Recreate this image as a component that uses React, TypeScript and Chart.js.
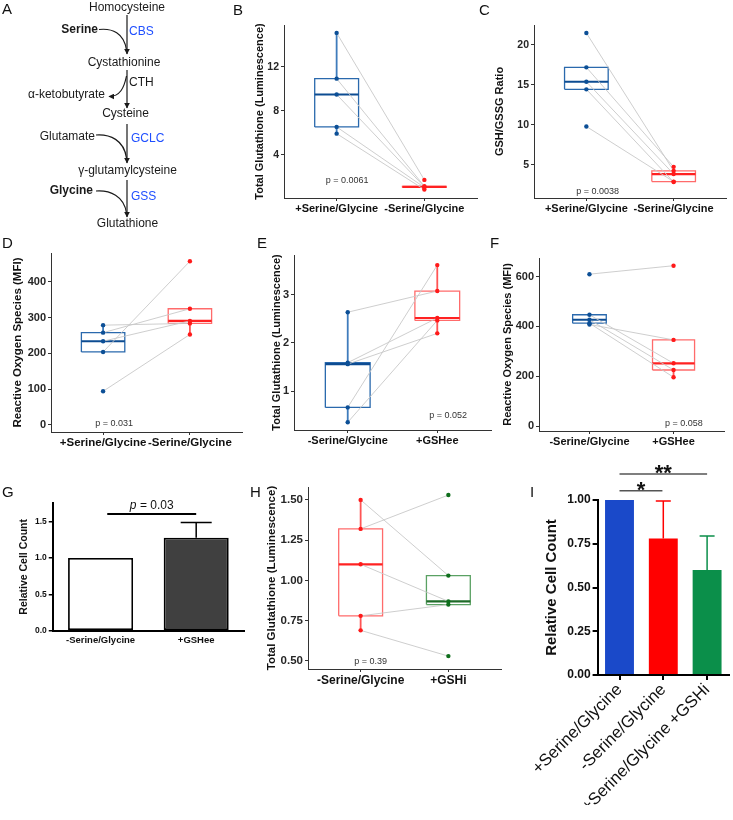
import React, { useEffect, useRef } from 'react';
import { Chart, registerables } from 'chart.js';
Chart.register(...registerables);

const FONT = '"Liberation Sans", Arial, Helvetica, sans-serif';
Chart.defaults.font.family = FONT;

// ---------------- DATA ----------------
// Panel B
const bCats = ['+Serine/Glycine', '-Serine/Glycine'];
const bPlus = [15.1, 10.94, 9.5, 6.55, 5.94];
const bMinus = [1.73, 1.15, 1.1, 1.05, 0.85];
const bBoxPlus = [5.94, 6.55, 9.5, 10.94, 15.1];
const bBoxMinus = [1.05, 1.05, 1.1, 1.15, 1.15];
const bTicks = [4, 8, 12];
const bP = 'p = 0.0061';

// Panel C
const cCats = ['+Serine/Glycine', '-Serine/Glycine'];
const cPlus = [21.5, 17.2, 15.4, 14.45, 9.8];
const cMinus = [4.25, 4.75, 3.85, 2.85, 2.9];
const cBoxPlus = [14.45, 14.45, 15.4, 17.2, 17.2];
const cBoxMinus = [2.85, 2.9, 3.85, 4.25, 4.75];
const cTicks = [5, 10, 15, 20];
const cP = 'p = 0.0038';

// Panel D
const dCats = ['+Serine/Glycine', '-Serine/Glycine'];
const dPlus = [279, 258, 234, 204, 94];
const dMinus = [284, 325, 291, 458, 253];
const dBoxPlus = [204, 204, 234, 258, 279];
const dBoxMinus = [253, 284, 291, 325, 325];
const dTicks = [0, 100, 200, 300, 400];
const dP = 'p = 0.031';

// Panel E
const eCats = ['-Serine/Glycine', '+GSHee'];
const eMinus = [2.64, 1.59, 1.56, 0.66, 0.35];
const eGSHee = [3.08, 2.52, 2.2, 3.62, 2.47];
const eBoxMinus = [0.35, 0.66, 1.56, 1.59, 2.64];
const eBoxGSHee = [2.2, 2.47, 2.52, 3.08, 3.62];
const eTicks = [1, 2, 3];
const eP = 'p = 0.052';

// Panel F
const fCats = ['-Serine/Glycine', '+GSHee'];
const fMinus = [610, 447, 427, 413, 408];
const fGSHee = [644, 252, 225, 196, 346];
const fBoxMinus = [408, 413, 427, 447, 447];
const fBoxGSHee = [196, 225, 252, 346, 346];
const fTicks = [0, 200, 400, 600];
const fP = 'p = 0.058';

// Panel G
const gCats = ['-Serine/Glycine', '+GSHee'];
const gMeans = [1.0, 1.28];
const gErr = [0, 0.21];
const gTicks = [0, 0.5, 1.0, 1.5];
const gPValue = '0.03';

// Panel H
const hCats = ['-Serine/Glycine', '+GSHi'];
const hMinus = [1.5, 1.32, 1.1, 0.78, 0.69];
const hGSHi = [1.03, 1.53, 0.87, 0.85, 0.53];
const hBoxMinus = [0.69, 0.78, 1.1, 1.32, 1.5];
const hBoxGSHi = [0.85, 0.85, 0.87, 1.03, 1.03];
const hTicks = [0.5, 0.75, 1.0, 1.25, 1.5];
const hP = 'p = 0.39';

// Panel I
const iCats = ['+Serine/Glycine', '-Serine/Glycine', '+Serine/Glycine +GSHi'];
const iMeans = [1.0, 0.78, 0.6];
const iErr = [0, 0.215, 0.195];
const iTicks = [0, 0.25, 0.5, 0.75, 1.0];
const iSig = [
  { from: 0, to: 2, y: 1.149, label: '**' },
  { from: 0, to: 0.98, y: 1.053, label: '*' },
];

// ---------------- STYLE ----------------
type Col = { point: string; box: string; median: string; whisker: string };
const BLUE: Col = { point: '#0c4f96', box: '#2a69ad', median: '#0d4c92', whisker: '#3f7cbc' };
const RED: Col = { point: '#ff1a1a', box: '#ff6b6b', median: '#ff2222', whisker: '#ff5555' };
const GREEN: Col = { point: '#0f6e1c', box: '#5aa163', median: '#1e6b28', whisker: '#4a944f' };

type Geo = { cx: number; cy: number; cw: number; ch: number; L: number; T: number; R: number; B: number; tcx: number; xH: number };

const GEO: Record<string, Geo> = {
  B: { cx: 225, cy: 0, cw: 265, ch: 240, L: 284, T: 25, R: 477, B: 198, tcx: 260, xH: 22 },
  C: { cx: 480, cy: 0, cw: 253, ch: 240, L: 534, T: 25, R: 726, B: 198, tcx: 500, xH: 22 },
  D: { cx: 0, cy: 230, cw: 246, ch: 235, L: 51, T: 253, R: 242, B: 432, tcx: 18, xH: 22 },
  E: { cx: 246, cy: 235, cw: 250, ch: 230, L: 294, T: 255, R: 491, B: 430, tcx: 277, xH: 22 },
  F: { cx: 496, cy: 235, cw: 237, ch: 230, L: 539, T: 258, R: 724, B: 431, tcx: 508, xH: 22 },
  G: { cx: 0, cy: 480, cw: 250, ch: 200, L: 52.75, T: 503, R: 244, B: 630.7, tcx: 24, xH: 20 },
  H: { cx: 246, cy: 465, cw: 262, ch: 240, L: 308, T: 487, R: 501, B: 669, tcx: 271.7, xH: 24 },
  I: { cx: 495, cy: 440, cw: 238, ch: 380, L: 597.6, T: 500, R: 729, B: 675, tcx: 551.7, xH: 130 },
};

function layoutFor(g: Geo, titleSize: number) {
  const lh = titleSize * 1.2;
  const yW = g.L - (g.tcx - lh / 2);
  return {
    yW,
    padding: {
      left: g.L - yW - g.cx,
      top: g.T - g.cy,
      right: g.cx + g.cw - g.R,
      bottom: g.cy + g.ch - g.B - g.xH,
    },
  };
}

function textPlugin(id: string, text: string, x: number, y: number, size: number) {
  return {
    id,
    afterDatasetsDraw(chart: any) {
      const { ctx } = chart;
      const xs = chart.scales.x, ys = chart.scales.y;
      ctx.save();
      ctx.font = `${size}px ${FONT}`;
      ctx.fillStyle = '#333';
      ctx.textAlign = 'center';
      ctx.textBaseline = 'middle';
      ctx.fillText(text, xs.getPixelForValue(x), ys.getPixelForValue(y));
      ctx.restore();
    },
  };
}

interface BoxSpec {
  geo: Geo; cats: string[]; g1: number[]; g2: number[]; box1: number[]; box2: number[];
  cols: [Col, Col]; hw: [number, number]; yMin: number; yMax: number; yTicks: number[]; yDec: number;
  yTitle: string; pText: string; pX: number; pY: number;
  tickSize: number; labelSize: number; titleSize: number;
}

function makeBoxChart(canvas: HTMLCanvasElement, s: BoxSpec) {
  const lay = layoutFor(s.geo, s.titleSize);
  const lineBase = { showLine: true, pointRadius: 0, pointHoverRadius: 0, fill: false, tension: 0 };
  const groups = [
    { c: 1, vals: s.g1, st: s.box1, col: s.cols[0], hw: s.hw[0] },
    { c: 2, vals: s.g2, st: s.box2, col: s.cols[1], hw: s.hw[1] },
  ];
  const pointsDs = groups.map((g) => ({
    data: g.vals.map((v) => ({ x: g.c, y: v })),
    showLine: false, pointRadius: 2.2, pointBackgroundColor: g.col.point, pointBorderWidth: 0, pointBorderColor: g.col.point,
  }));
  const pairDs = s.g1.map((v, i) => ({
    ...lineBase, data: [{ x: 1, y: v }, { x: 2, y: s.g2[i] }], borderColor: '#c8c8c8', borderWidth: 0.9,
  }));
  const medDs = groups.map((g) => ({
    ...lineBase, data: [{ x: g.c - g.hw, y: g.st[2] }, { x: g.c + g.hw, y: g.st[2] }], borderColor: g.col.median, borderWidth: 2.2,
  }));
  const boxDs = groups.map((g) => {
    const q1 = g.st[1], q3 = g.st[3];
    return {
      ...lineBase,
      data: [
        { x: g.c - g.hw, y: q1 }, { x: g.c + g.hw, y: q1 }, { x: g.c + g.hw, y: q3 }, { x: g.c - g.hw, y: q3 }, { x: g.c - g.hw, y: q1 },
      ],
      borderColor: g.col.box, borderWidth: 1.3, borderJoinStyle: 'miter',
    };
  });
  const whiskDs = groups.flatMap((g) => [
    { ...lineBase, data: [{ x: g.c, y: g.st[3] }, { x: g.c, y: g.st[4] }], borderColor: g.col.whisker, borderWidth: 1.8 },
    { ...lineBase, data: [{ x: g.c, y: g.st[1] }, { x: g.c, y: g.st[0] }], borderColor: g.col.whisker, borderWidth: 1.8 },
  ]);
  const axisColor = '#333';
  return new Chart(canvas, {
    type: 'scatter',
    data: { datasets: [...pointsDs, ...pairDs, ...medDs, ...boxDs, ...whiskDs] as any },
    options: {
      responsive: false, animation: false, events: [],
      layout: { padding: lay.padding },
      plugins: { legend: { display: false }, tooltip: { enabled: false } },
      scales: {
        x: {
          type: 'linear', min: 0.4, max: 2.6,
          afterBuildTicks: (sc: any) => { sc.ticks = [{ value: 1 }, { value: 2 }]; },
          afterFit: (sc: any) => { sc.height = s.geo.xH; },
          ticks: {
            callback: (v: any) => s.cats[Math.round(Number(v)) - 1],
            font: { family: FONT, size: s.labelSize, weight: 'bold' }, color: '#111', padding: 1,
            autoSkip: false, maxRotation: 0, minRotation: 0,
          },
          grid: { display: true, drawOnChartArea: false, drawTicks: true, tickLength: 3, color: axisColor, lineWidth: 1 },
          border: { display: true, color: axisColor, width: 1 },
        },
        y: {
          type: 'linear', min: s.yMin, max: s.yMax,
          afterBuildTicks: (sc: any) => { sc.ticks = s.yTicks.map((v) => ({ value: v })); },
          afterFit: (sc: any) => { sc.width = lay.yW; },
          ticks: {
            callback: (v: any) => Number(v).toFixed(s.yDec),
            font: { family: FONT, size: s.tickSize, weight: 'bold' }, color: '#262626', padding: 2, autoSkip: false,
          },
          grid: { display: true, drawOnChartArea: false, drawTicks: true, tickLength: 3, color: axisColor, lineWidth: 1 },
          border: { display: true, color: axisColor, width: 1 },
          title: { display: true, text: s.yTitle, font: { family: FONT, size: s.titleSize, weight: 'bold' }, color: '#111', padding: 0 },
        },
      },
    } as any,
    plugins: [textPlugin('ptext', s.pText, s.pX, s.pY, 9)],
  });
}

function errPlugin(err: number[], colors: string[], width: number, cap: number) {
  return {
    id: 'errbars',
    afterDatasetsDraw(chart: any) {
      const meta = chart.getDatasetMeta(0);
      const ys = chart.scales.y;
      const ctx = chart.ctx;
      const vals = chart.data.datasets[0].data as number[];
      err.forEach((e, i) => {
        if (!e) return;
        const x = meta.data[i].x;
        const y0 = ys.getPixelForValue(vals[i]);
        const y1 = ys.getPixelForValue(vals[i] + e);
        ctx.save();
        ctx.strokeStyle = colors[i];
        ctx.lineWidth = width;
        ctx.beginPath();
        ctx.moveTo(x, y0); ctx.lineTo(x, y1);
        ctx.moveTo(x - cap / 2, y1); ctx.lineTo(x + cap / 2, y1);
        ctx.stroke();
        ctx.restore();
      });
    },
  };
}

function makeG(canvas: HTMLCanvasElement) {
  const geo = GEO.G;
  const titleSize = 10.5;
  const lay = layoutFor(geo, titleSize);
  const sig = {
    id: 'gsig',
    afterDraw(chart: any) {
      const { ctx } = chart;
      const xs = chart.scales.x, ys = chart.scales.y;
      const x1 = xs.getPixelForValue(0.07), x2 = xs.getPixelForValue(1.0);
      const y = ys.getPixelForValue(1.607);
      ctx.save();
      ctx.strokeStyle = '#000'; ctx.lineWidth = 2;
      ctx.beginPath(); ctx.moveTo(x1, y); ctx.lineTo(x2, y); ctx.stroke();
      const cxm = (x1 + x2) / 2;
      ctx.font = `italic 12px ${FONT}`;
      const w1 = ctx.measureText('p').width;
      ctx.font = `12px ${FONT}`;
      const rest = ' = ' + gPValue;
      const w2 = ctx.measureText(rest).width;
      const start = cxm - (w1 + w2) / 2;
      ctx.fillStyle = '#111'; ctx.textAlign = 'left'; ctx.textBaseline = 'alphabetic';
      ctx.font = `italic 12px ${FONT}`;
      ctx.fillText('p', start, y - 5);
      ctx.font = `12px ${FONT}`;
      ctx.fillText(rest, start + w1, y - 5);
      ctx.restore();
    },
  };
  return new Chart(canvas, {
    type: 'bar',
    data: {
      labels: gCats,
      datasets: [{
        data: gMeans, backgroundColor: ['#ffffff', '#404040'], borderColor: '#000', borderWidth: 1.8,
        borderSkipped: false, barPercentage: 0.68, categoryPercentage: 1,
      }],
    },
    options: {
      responsive: false, animation: false, events: [],
      layout: { padding: lay.padding },
      plugins: { legend: { display: false }, tooltip: { enabled: false } },
      scales: {
        x: {
          type: 'category',
          afterFit: (sc: any) => { sc.height = geo.xH; },
          ticks: { font: { family: FONT, size: 9.5, weight: 'bold' }, color: '#111', padding: 4, maxRotation: 0, minRotation: 0, autoSkip: false },
          grid: { display: true, drawOnChartArea: false, drawTicks: false, color: '#000' },
          border: { display: true, color: '#000', width: 2 },
        },
        y: {
          type: 'linear', min: 0, max: 1.757,
          afterBuildTicks: (sc: any) => { sc.ticks = gTicks.map((v) => ({ value: v })); },
          afterFit: (sc: any) => { sc.width = lay.yW; },
          ticks: { callback: (v: any) => Number(v).toFixed(1), font: { family: FONT, size: 8.5, weight: 'bold' }, color: '#111', padding: 2, autoSkip: false },
          grid: { display: true, drawOnChartArea: false, drawTicks: true, tickLength: 4, color: '#000', lineWidth: 1.5 },
          border: { display: true, color: '#000', width: 2 },
          title: { display: true, text: 'Relative Cell Count', font: { family: FONT, size: titleSize, weight: 'bold' }, color: '#111', padding: 0 },
        },
      },
    } as any,
    plugins: [errPlugin(gErr, ['#000', '#000'], 1.5, 31), sig],
  });
}

function makeI(canvas: HTMLCanvasElement) {
  const geo = GEO.I;
  const titleSize = 15;
  const lay = layoutFor(geo, titleSize);
  const colors = ['#1a49c9', '#ff0000', '#0b8f4a'];
  const sig = {
    id: 'isig',
    afterDraw(chart: any) {
      const { ctx } = chart;
      const xs = chart.scales.x, ys = chart.scales.y;
      ctx.save();
      iSig.forEach((s) => {
        const x1 = xs.getPixelForValue(s.from), x2 = xs.getPixelForValue(s.to);
        const y = ys.getPixelForValue(s.y);
        ctx.strokeStyle = '#555'; ctx.lineWidth = 1.5;
        ctx.beginPath(); ctx.moveTo(x1, y); ctx.lineTo(x2, y); ctx.stroke();
        ctx.fillStyle = '#111';
        ctx.font = `bold 22px ${FONT}`;
        ctx.textAlign = 'center'; ctx.textBaseline = 'alphabetic';
        ctx.fillText(s.label, (x1 + x2) / 2, y + 6);
      });
      ctx.restore();
    },
  };
  return new Chart(canvas, {
    type: 'bar',
    data: {
      labels: iCats,
      datasets: [{ data: iMeans, backgroundColor: colors, borderWidth: 0, barPercentage: 0.66, categoryPercentage: 1 }],
    },
    options: {
      responsive: false, animation: false, events: [],
      layout: { padding: lay.padding },
      plugins: { legend: { display: false }, tooltip: { enabled: false } },
      scales: {
        x: {
          type: 'category',
          afterFit: (sc: any) => { sc.height = geo.xH; },
          ticks: { font: { family: FONT, size: 16.8 }, color: '#111', padding: 0, maxRotation: 45, minRotation: 45, autoSkip: false },
          grid: { display: true, offset: false, drawOnChartArea: false, drawTicks: true, tickLength: 5, color: '#000', lineWidth: 2 },
          border: { display: true, color: '#000', width: 2 },
        },
        y: {
          type: 'linear', min: 0, max: 1,
          afterBuildTicks: (sc: any) => { sc.ticks = iTicks.map((v) => ({ value: v })); },
          afterFit: (sc: any) => { sc.width = lay.yW; },
          ticks: { callback: (v: any) => Number(v).toFixed(2), font: { family: FONT, size: 12, weight: 'bold' }, color: '#111', padding: 2, autoSkip: false },
          grid: { display: true, drawOnChartArea: false, drawTicks: true, tickLength: 5, color: '#000', lineWidth: 2 },
          border: { display: true, color: '#000', width: 2 },
          title: { display: true, text: 'Relative Cell Count', font: { family: FONT, size: titleSize, weight: 'bold' }, color: '#111', padding: 0 },
        },
      },
    } as any,
    plugins: [errPlugin(iErr, colors, 1.5, 15), sig],
  });
}

const SPECS: Record<string, BoxSpec> = {
  B: { geo: GEO.B, cats: bCats, g1: bPlus, g2: bMinus, box1: bBoxPlus, box2: bBoxMinus, cols: [BLUE, RED], hw: [0.25, 0.25], yMin: 0.085, yMax: 15.82, yTicks: bTicks, yDec: 0, yTitle: 'Total Glutathione (Luminescence)', pText: bP, pX: 1.12, pY: 1.72, tickSize: 10.5, labelSize: 11, titleSize: 11 },
  C: { geo: GEO.C, cats: cCats, g1: cPlus, g2: cMinus, box1: cBoxPlus, box2: cBoxMinus, cols: [BLUE, RED], hw: [0.25, 0.25], yMin: 0.85, yMax: 22.5, yTicks: cTicks, yDec: 0, yTitle: 'GSH/GSSG Ratio', pText: cP, pX: 1.13, pY: 1.72, tickSize: 10.5, labelSize: 11, titleSize: 11 },
  D: { geo: GEO.D, cats: dCats, g1: dPlus, g2: dMinus, box1: dBoxPlus, box2: dBoxMinus, cols: [BLUE, RED], hw: [0.25, 0.25], yMin: -20, yMax: 481, yTicks: dTicks, yDec: 0, yTitle: 'Reactive Oxygen Species (MFI)', pText: dP, pX: 1.126, pY: 2.4, tickSize: 11, labelSize: 11.5, titleSize: 11.5 },
  E: { geo: GEO.E, cats: eCats, g1: eMinus, g2: eGSHee, box1: eBoxMinus, box2: eBoxGSHee, cols: [BLUE, RED], hw: [0.25, 0.25], yMin: 0.19, yMax: 3.83, yTicks: eTicks, yDec: 0, yTitle: 'Total Glutathione (Luminescence)', pText: eP, pX: 2.12, pY: 0.5, tickSize: 11, labelSize: 11, titleSize: 11 },
  F: { geo: GEO.F, cats: fCats, g1: fMinus, g2: fGSHee, box1: fBoxMinus, box2: fBoxGSHee, cols: [BLUE, RED], hw: [0.2, 0.25], yMin: -20, yMax: 675, yTicks: fTicks, yDec: 0, yTitle: 'Reactive Oxygen Species (MFI)', pText: fP, pX: 2.124, pY: 9.3, tickSize: 11, labelSize: 11, titleSize: 11 },
  H: { geo: GEO.H, cats: hCats, g1: hMinus, g2: hGSHi, box1: hBoxMinus, box2: hBoxGSHi, cols: [RED, GREEN], hw: [0.25, 0.25], yMin: 0.45, yMax: 1.58, yTicks: hTicks, yDec: 2, yTitle: 'Total Glutathione (Luminescence)', pText: hP, pX: 1.115, pY: 0.495, tickSize: 11.5, labelSize: 12, titleSize: 11.5 },
};

function ChartCanvas({ geo, make }: { geo: Geo; make: (c: HTMLCanvasElement) => Chart }) {
  const ref = useRef<HTMLCanvasElement>(null);
  useEffect(() => {
    const chart = make(ref.current!);
    return () => chart.destroy();
  }, []);
  return (
    <canvas
      ref={ref}
      width={geo.cw}
      height={geo.ch}
      style={{ position: 'absolute', left: geo.cx, top: geo.cy, width: geo.cw, height: geo.ch }}
    />
  );
}

const panelLetters: [string, number, number][] = [
  ['A', 2, 14], ['B', 233, 15], ['C', 479, 15], ['D', 2, 248], ['E', 257, 248],
  ['F', 490, 248], ['G', 2, 497], ['H', 250, 497], ['I', 530, 497],
];

function Overlay() {
  const base = { fontFamily: FONT, fontSize: 12, fill: '#1a1a1a' } as any;
  const blue = { ...base, fill: '#1f4fff' };
  const vx = 127;
  const stroke = { stroke: '#1a1a1a', strokeWidth: 1.2, fill: 'none' } as any;
  return (
    <svg width={733} height={820} style={{ position: 'absolute', left: 0, top: 0, pointerEvents: 'none' }}>
      <defs>
        <marker id="arr" viewBox="0 0 10 10" refX="9" refY="5" markerWidth="6" markerHeight="6" markerUnits="userSpaceOnUse" orient="auto">
          <path d="M0,0 L10,5 L0,10 z" fill="#1a1a1a" />
        </marker>
      </defs>
      {panelLetters.map(([t, x, y]) => (
        <text key={t} x={x} y={y} style={{ fontFamily: FONT, fontSize: 15, fill: '#111' }}>{t}</text>
      ))}
      <text x={vx} y={11.3} textAnchor="middle" style={base}>Homocysteine</text>
      <text x={98} y={33} textAnchor="end" style={{ ...base, fontWeight: 'bold' }}>Serine</text>
      <text x={129} y={35} style={blue}>CBS</text>
      <text x={124} y={66} textAnchor="middle" style={base}>Cystathionine</text>
      <text x={129} y={86} style={base}>CTH</text>
      <text x={105} y={97.5} textAnchor="end" style={base}>α-ketobutyrate</text>
      <text x={125.5} y={116.8} textAnchor="middle" style={base}>Cysteine</text>
      <text x={95} y={140} textAnchor="end" style={base}>Glutamate</text>
      <text x={131} y={141.7} style={blue}>GCLC</text>
      <text x={127.5} y={174} textAnchor="middle" style={base}>γ-glutamylcysteine</text>
      <text x={93} y={194} textAnchor="end" style={{ ...base, fontWeight: 'bold' }}>Glycine</text>
      <text x={131} y={200} style={blue}>GSS</text>
      <text x={127.5} y={227} textAnchor="middle" style={base}>Glutathione</text>

      <line x1={vx} y1={15} x2={vx} y2={54} {...stroke} markerEnd="url(#arr)" />
      <line x1={vx} y1={70} x2={vx} y2={108} {...stroke} markerEnd="url(#arr)" />
      <line x1={vx} y1={124} x2={vx} y2={163} {...stroke} markerEnd="url(#arr)" />
      <line x1={vx} y1={180} x2={vx} y2={217} {...stroke} markerEnd="url(#arr)" />

      <path d="M99,29.5 C112,28 124,33 126.5,50" {...stroke} />
      <path d="M126.5,76 C124,88 120,96.5 109,96.5" {...stroke} markerEnd="url(#arr)" />
      <path d="M96,135 C110,134 124,140 126.5,158" {...stroke} />
      <path d="M96,191 C110,190 124,196 126.5,213" {...stroke} />
    </svg>
  );
}

export default function App() {
  return (
    <div style={{ position: 'absolute', left: 0, top: 0, width: 733, height: 820, background: '#fff', overflow: 'hidden' }}>
      {Object.keys(SPECS).map((k) => (
        <ChartCanvas key={k} geo={GEO[k]} make={(c) => makeBoxChart(c, SPECS[k])} />
      ))}
      <ChartCanvas geo={GEO.G} make={makeG} />
      <ChartCanvas geo={GEO.I} make={makeI} />
      <Overlay />
    </div>
  );
}
